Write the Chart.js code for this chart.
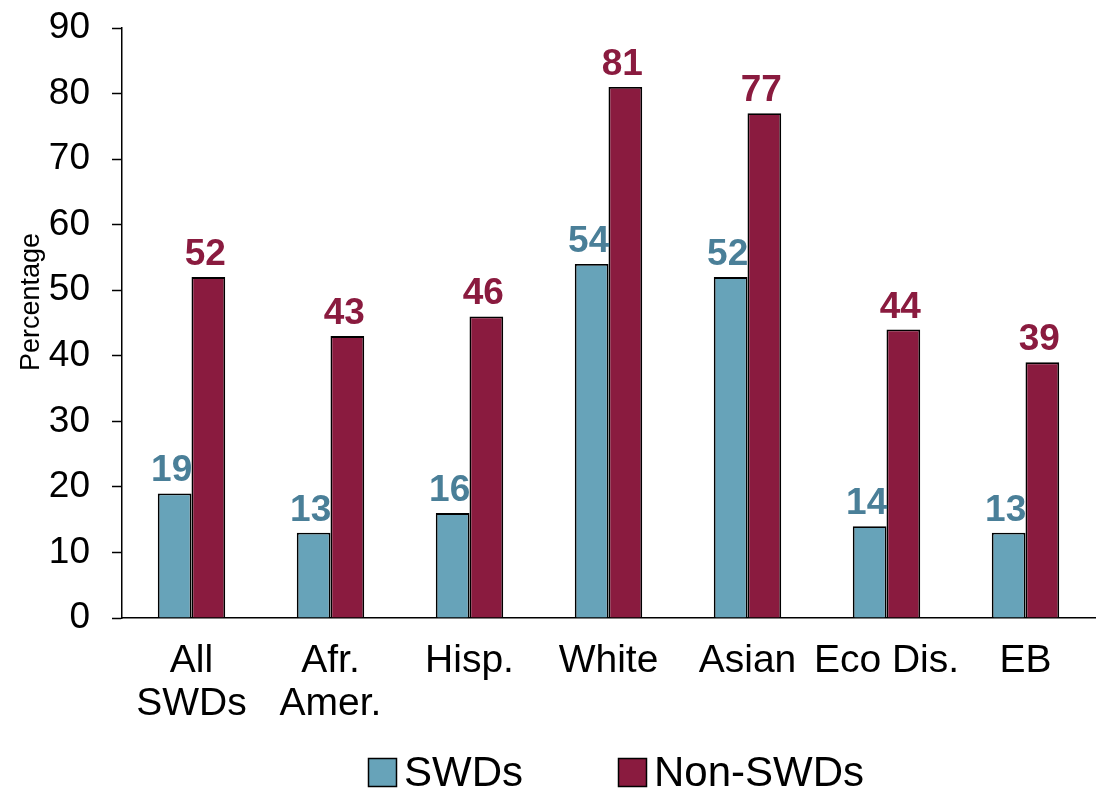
<!DOCTYPE html>
<html>
<head>
<meta charset="utf-8">
<script src="https://cdn.jsdelivr.net/npm/chart.js@4.4.1/dist/chart.umd.min.js"></script>
<style>
  html, body { margin: 0; padding: 0; background: #ffffff; }
  #wrap { width: 1101px; height: 793px; position: relative; }
</style>
</head>
<body>
<div id="wrap"><canvas id="c" width="1101" height="793"></canvas></div>
<script>
const categories = [["All", "SWDs"], ["Afr.", "Amer."], "Hisp.", "White", "Asian", "Eco Dis.", "EB"];
const swdValues = [19, 13, 16, 54, 52, 14, 13];
const nonSwdValues = [52, 43, 46, 81, 77, 44, 39];
const seriesNames = ["SWDs", "Non-SWDs"];
const yTicks = [0, 10, 20, 30, 40, 50, 60, 70, 80, 90];
const yTitle = "Percentage";

const FONT = "'Liberation Sans', Arial, sans-serif";
const fillColors = ["#67A3B9", "#8A1B3F"];
const labelColors = ["#4A7F98", "#8A1B3F"];

const dataLabels = {
  id: "dataLabels",
  afterDatasetsDraw(chart) {
    const ctx = chart.ctx;
    ctx.save();
    ctx.font = "bold 37px " + FONT;
    ctx.textAlign = "center";
    ctx.textBaseline = "alphabetic";
    chart.data.datasets.forEach((ds, di) => {
      const meta = chart.getDatasetMeta(di);
      ctx.fillStyle = labelColors[di];
      meta.data.forEach((bar, i) => {
        ctx.fillText(String(ds.data[i]), bar.x - 3, bar.y - 12);
      });
    });
    ctx.restore();
  }
};

const extras = {
  id: "extras",
  afterDraw(chart) {
    const ctx = chart.ctx;
    ctx.save();
    ctx.translate(32, 302);
    ctx.rotate(-Math.PI / 2);
    ctx.font = "27px " + FONT;
    ctx.fillStyle = "#000";
    ctx.textAlign = "center";
    ctx.textBaseline = "middle";
    ctx.fillText(yTitle, 0, 0);
    ctx.restore();

    ctx.save();
    ctx.font = "42px " + FONT;
    ctx.textBaseline = "alphabetic";
    ctx.textAlign = "left";
    const starts = [368, 618];
    seriesNames.forEach((name, i) => {
      const bx = starts[i], by = 758, s = 29;
      ctx.fillStyle = fillColors[i];
      ctx.fillRect(bx, by, s, s);
      ctx.lineWidth = 1.5;
      ctx.strokeStyle = "#000";
      ctx.strokeRect(bx + 0.5, by + 0.5, s - 1, s - 1);
      ctx.fillStyle = "#000";
      ctx.fillText(name, bx + 36, 786);
    });
    ctx.restore();
  }
};

new Chart(document.getElementById("c"), {
  type: "bar",
  data: {
    labels: categories,
    datasets: [
      { label: seriesNames[0], data: swdValues, backgroundColor: fillColors[0], borderColor: "#000", borderWidth: 1.8, borderSkipped: "bottom" },
      { label: seriesNames[1], data: nonSwdValues, backgroundColor: fillColors[1], borderColor: "#000", borderWidth: 1.8, borderSkipped: "bottom" }
    ]
  },
  options: {
    responsive: false,
    animation: false,
    devicePixelRatio: 1,
    layout: { padding: { top: 28, right: 6, bottom: 75, left: 0 } },
    datasets: { bar: { categoryPercentage: 0.485, barPercentage: 1.0 } },
    plugins: {
      legend: { display: false },
      tooltip: { enabled: false },
      title: { display: false }
    },
    scales: {
      x: {
        grid: { display: true, drawOnChartArea: false, drawTicks: false },
        border: { display: true, color: "#000", width: 1.5 },
        ticks: { color: "#000", font: { family: FONT, size: 39, lineHeight: 1.1 }, padding: 22, maxRotation: 0, autoSkip: false },
        afterFit(scale) { scale.height = 100; scale.paddingLeft = 0; scale.paddingRight = 0; }
      },
      y: {
        min: 0, max: 90,
        afterBuildTicks(scale) { scale.ticks = yTicks.map(v => ({ value: v })); },
        grid: { display: true, drawOnChartArea: false, drawTicks: true, tickLength: 10, tickColor: "#000", tickWidth: 1.5 },
        border: { display: true, color: "#000", width: 1.5 },
        ticks: { color: "#000", font: { family: FONT, size: 37 }, padding: 22 },
        afterFit(scale) { scale.width = 122; scale.paddingTop = 0; scale.paddingBottom = 0; }
      }
    }
  },
  plugins: [dataLabels, extras]
});
</script>
</body>
</html>
